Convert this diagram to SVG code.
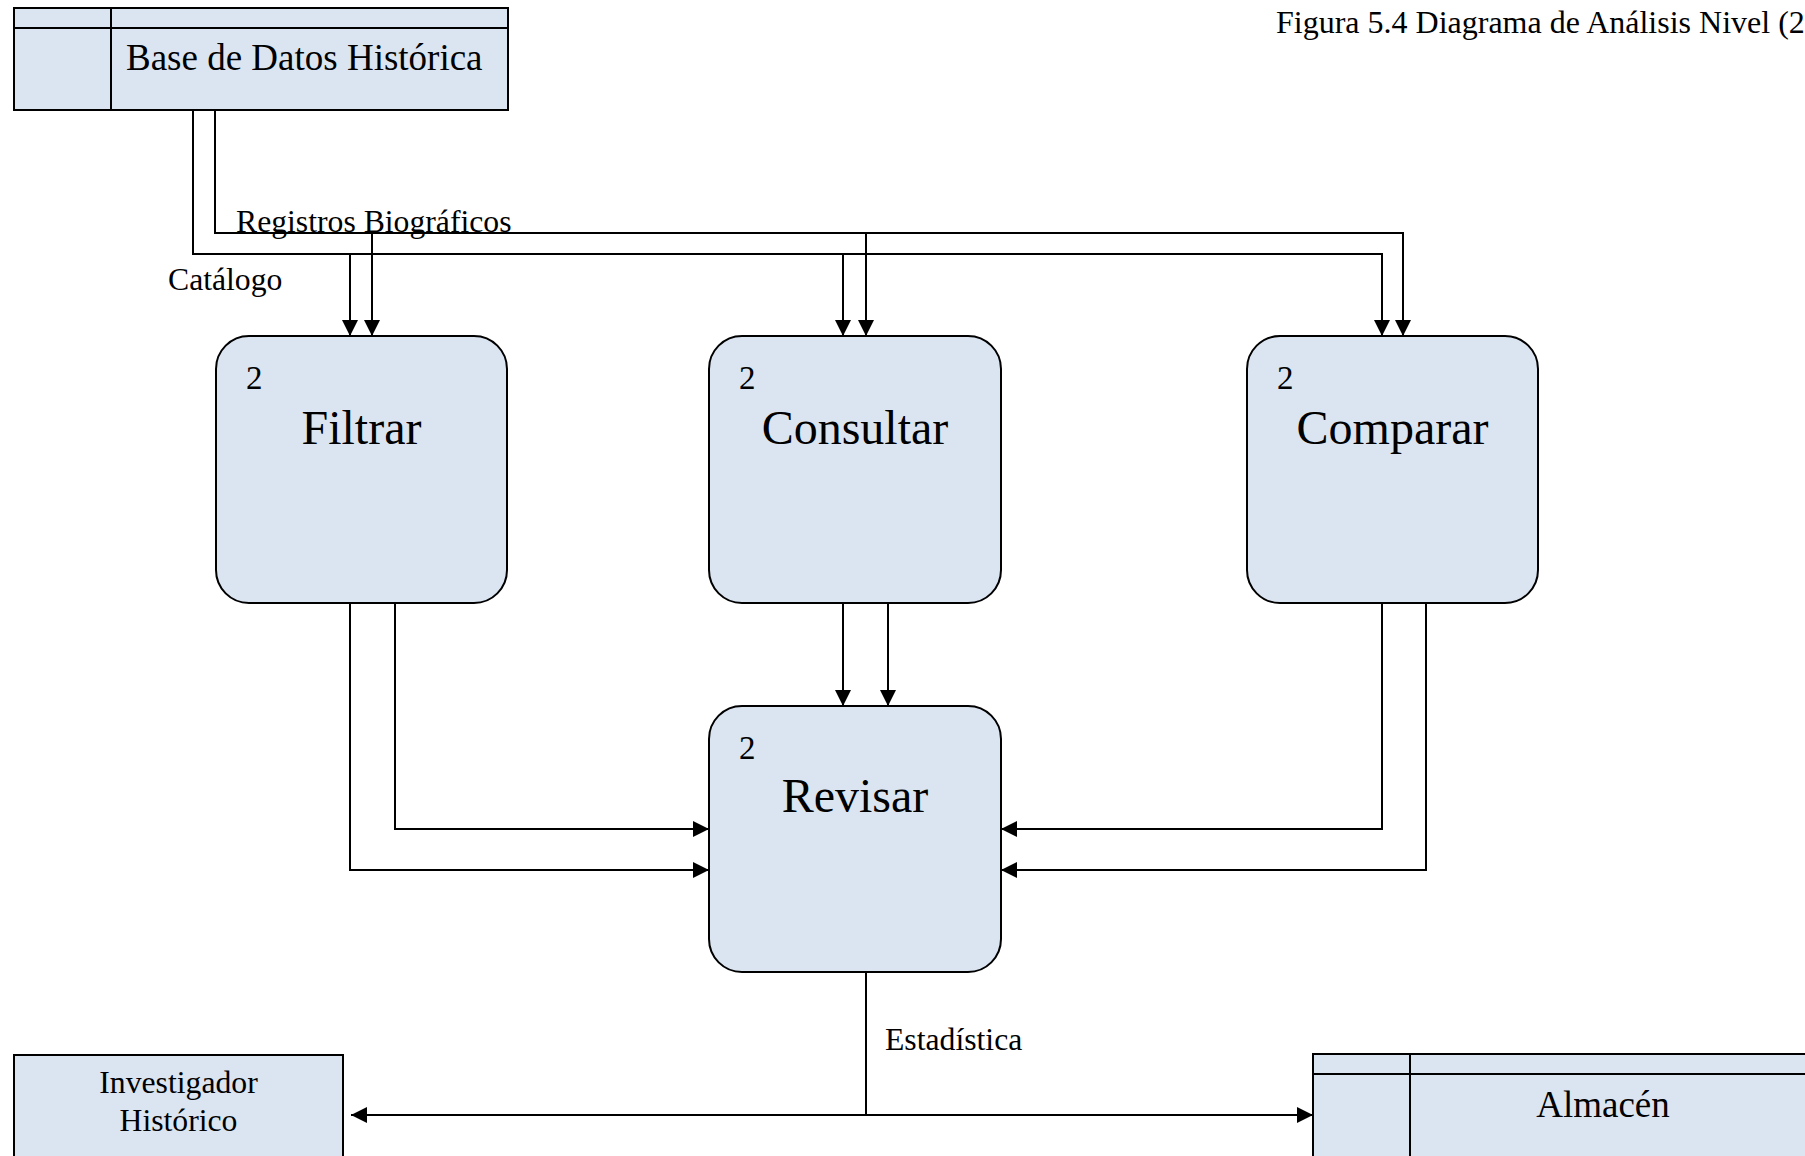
<svg xmlns="http://www.w3.org/2000/svg" width="1805" height="1156" viewBox="0 0 1805 1156">
<style>
.box{fill:#dbe5f1;stroke:#000;stroke-width:2}
.ln{fill:none;stroke:#000;stroke-width:2}
.t{font-family:"Liberation Serif","Times New Roman",serif;fill:#000}
.lbl{font-size:31.7px}
.num{font-size:33px}
.big{font-size:48px;text-anchor:middle}
.store{font-size:37px}
</style>
<defs>
<marker id="ah" markerUnits="userSpaceOnUse" markerWidth="17" markerHeight="16" refX="16" refY="8" orient="auto">
<path d="M0,0 L16,8 L0,16 z" fill="#000"/>
</marker>
</defs>
<rect width="1805" height="1156" fill="#fff"/>
<text class="t" x="1276" y="33" font-size="32px">Figura 5.4 Diagrama de Análisis Nivel (2</text>
<g id="connectors">
<path class="ln" d="M193,110 V254 H1382 V336" marker-end="url(#ah)"/>
<path class="ln" d="M350,254 V336" marker-end="url(#ah)"/>
<path class="ln" d="M843,254 V336" marker-end="url(#ah)"/>
<path class="ln" d="M215,110 V233 H1403 V336" marker-end="url(#ah)"/>
<path class="ln" d="M372,233 V336" marker-end="url(#ah)"/>
<path class="ln" d="M866,233 V336" marker-end="url(#ah)"/>
<path class="ln" d="M395,603 V829 H709" marker-end="url(#ah)"/>
<path class="ln" d="M350,603 V870 H709" marker-end="url(#ah)"/>
<path class="ln" d="M1382,603 V829 H1001" marker-end="url(#ah)"/>
<path class="ln" d="M1426,603 V870 H1001" marker-end="url(#ah)"/>
<path class="ln" d="M843,603 V706" marker-end="url(#ah)"/>
<path class="ln" d="M888,603 V706" marker-end="url(#ah)"/>
<path class="ln" d="M866,972 V1115"/>
<path class="ln" d="M866,1115 H351" marker-end="url(#ah)"/>
<path class="ln" d="M866,1115 H1313" marker-end="url(#ah)"/>
<text class="t lbl" x="236" y="232">Registros Biográficos</text>
<text class="t lbl" x="168" y="290">Catálogo</text>
<text class="t lbl" x="885" y="1050">Estadística</text>
</g>
<g id="base-datos">
<rect class="box" x="14" y="8" width="494" height="102"/>
<path class="ln" d="M14,28 H508 M111,8 V110"/>
<text class="t store" x="126" y="70">Base de Datos Histórica</text>
</g>
<g id="filtrar">
<rect class="box" x="216" y="336" width="291" height="267" rx="33"/>
<text class="t num" x="246" y="389">2</text>
<text class="t big" x="361.5" y="444">Filtrar</text>
</g>
<g id="consultar">
<rect class="box" x="709" y="336" width="292" height="267" rx="33"/>
<text class="t num" x="739" y="389">2</text>
<text class="t big" x="855" y="444">Consultar</text>
</g>
<g id="comparar">
<rect class="box" x="1247" y="336" width="291" height="267" rx="33"/>
<text class="t num" x="1277" y="389">2</text>
<text class="t big" x="1392.5" y="444">Comparar</text>
</g>
<g id="revisar">
<rect class="box" x="709" y="706" width="292" height="266" rx="33"/>
<text class="t num" x="739" y="759">2</text>
<text class="t big" x="855" y="812">Revisar</text>
</g>
<g id="investigador">
<rect class="box" x="14" y="1055" width="329" height="120"/>
<text class="t lbl" x="178.5" y="1093" text-anchor="middle">Investigador</text>
<text class="t lbl" x="178.5" y="1131" text-anchor="middle">Histórico</text>
</g>
<g id="almacen">
<rect class="box" x="1313" y="1054" width="520" height="130"/>
<path class="ln" d="M1313,1074 H1833 M1410,1054 V1184"/>
<text class="t store" x="1603" y="1117" text-anchor="middle">Almacén</text>
</g>
</svg>
